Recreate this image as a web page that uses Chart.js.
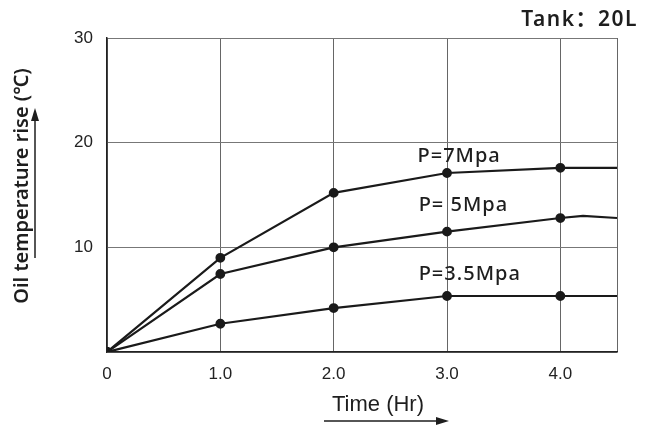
<!DOCTYPE html>
<html>
<head>
<meta charset="utf-8">
<script src="https://cdn.jsdelivr.net/npm/chart.js@4/dist/chart.umd.min.js"></script>
<style>
  html, body { margin: 0; padding: 0; background: #fff; }
  #wrap { width: 650px; height: 425px; }
</style>
</head>
<body>
<div id="wrap"><canvas id="tempChart" width="650" height="425"></canvas></div>
<script>
// tiempo (Hr) y aumento de temperatura (°C)
const horas = [0, 1, 2, 3, 4, 4.5];
const horas5 = [0, 1, 2, 3, 4, 4.2, 4.5];
const p7 = [0, 9.0, 15.2, 17.1, 17.6, 17.6];
const p5 = [0, 7.45, 10.0, 11.5, 12.8, 13.0, 12.8];
const p35 = [0, 2.7, 4.2, 5.35, 5.35, 5.35];
const etiquetas = ["P=7Mpa", "P= 5Mpa", "P=3.5Mpa"];
const ticksX = [0, 1, 2, 3, 4, 4.5];
const ticksY = [0, 10, 20, 30];

const tickFont = { family: "'Liberation Sans', Arial", size: 17 };

function serie(xs, ys) {
  return xs.map((x, i) => ({ x: x, y: ys[i] }));
}

function conPunto(ctx) {
  const x = ctx.raw ? ctx.raw.x : 0;
  return Number.isInteger(x) ? 3.8 : 0;
}

const textos = {
  id: "textos",
  afterDraw(chart) {
    const c = chart.ctx;
    const sx = chart.scales.x, sy = chart.scales.y;
    c.save();
    c.fillStyle = "#1e1e1e";
    c.strokeStyle = "#1e1e1e";

    // etiquetas de presión
    c.font = "500 20px 'Noto Sans'";
    c.letterSpacing = "1px";
    c.textAlign = "left";
    c.textBaseline = "middle";
    c.fillText(etiquetas[0], sx.getPixelForValue(2.74), sy.getPixelForValue(18.7));
    c.fillText(etiquetas[1], sx.getPixelForValue(2.75), sy.getPixelForValue(14.0));
    c.fillText(etiquetas[2], sx.getPixelForValue(2.75), sy.getPixelForValue(7.4));

    // Tank
    c.font = "600 21px 'Noto Sans', 'Noto Sans CJK SC'";
    c.letterSpacing = "1.5px";
    c.textAlign = "right";
    c.fillText("Tank：20L", 638, 20);
    c.letterSpacing = "0px";

    // titulo eje x
    c.font = "22px 'Liberation Sans Narrow', 'Liberation Sans'";
    c.textAlign = "center";
    c.fillText("Time (Hr)", 378, 405);
    c.lineWidth = 1.5;
    c.beginPath();
    c.moveTo(324, 421);
    c.lineTo(440, 421);
    c.stroke();
    c.beginPath();
    c.moveTo(449, 421);
    c.lineTo(436, 417);
    c.lineTo(436, 425);
    c.closePath();
    c.fill();

    // titulo eje y
    c.save();
    c.translate(22, 186);
    c.rotate(-Math.PI / 2);
    c.font = "600 20px 'Noto Sans'";
    c.textAlign = "center";
    c.fillText("Oil temperature rise (℃)", 0, 0);
    c.restore();
    c.beginPath();
    c.moveTo(35, 258);
    c.lineTo(35, 118);
    c.stroke();
    c.beginPath();
    c.moveTo(35, 108);
    c.lineTo(31, 121);
    c.lineTo(39, 121);
    c.closePath();
    c.fill();
    c.restore();
  }
};

const comun = {
  borderColor: "#1a1a1a",
  backgroundColor: "#1a1a1a",
  borderWidth: 2.2,
  pointRadius: conPunto,
  pointHoverRadius: conPunto,
  tension: 0
};

new Chart(document.getElementById("tempChart"), {
  type: "line",
  data: {
    datasets: [
      Object.assign({ label: etiquetas[0], data: serie(horas, p7) }, comun),
      Object.assign({ label: etiquetas[1], data: serie(horas5, p5) }, comun),
      Object.assign({ label: etiquetas[2], data: serie(horas, p35) }, comun)
    ]
  },
  options: {
    responsive: false,
    animation: false,
    layout: { padding: { top: 38, right: 33, left: 0, bottom: 0 } },
    plugins: { legend: { display: false }, tooltip: { enabled: false } },
    scales: {
      x: {
        type: "linear",
        min: 0,
        max: 4.5,
        afterBuildTicks: (axis) => { axis.ticks = ticksX.map((v) => ({ value: v })); },
        afterFit: (axis) => { axis.height = 73; },
        ticks: {
          color: "#222",
          font: tickFont,
          padding: 12,
          maxRotation: 0,
          callback: (v) => (v === 0 ? "0" : v === 4.5 ? "" : v.toFixed(1))
        },
        grid: { color: "#666", lineWidth: 1, drawTicks: false },
        border: { color: "#222", width: 1.5 }
      },
      y: {
        min: 0,
        max: 30,
        afterBuildTicks: (axis) => { axis.ticks = ticksY.map((v) => ({ value: v })); },
        afterFit: (axis) => { axis.width = 107; },
        ticks: {
          color: "#222",
          font: tickFont,
          padding: 14,
          callback: (v) => (v === 0 ? "" : String(v))
        },
        grid: { color: "#777", lineWidth: 1, drawTicks: false },
        border: { color: "#222", width: 1.5 }
      }
    }
  },
  plugins: [textos]
});
</script>
</body>
</html>
